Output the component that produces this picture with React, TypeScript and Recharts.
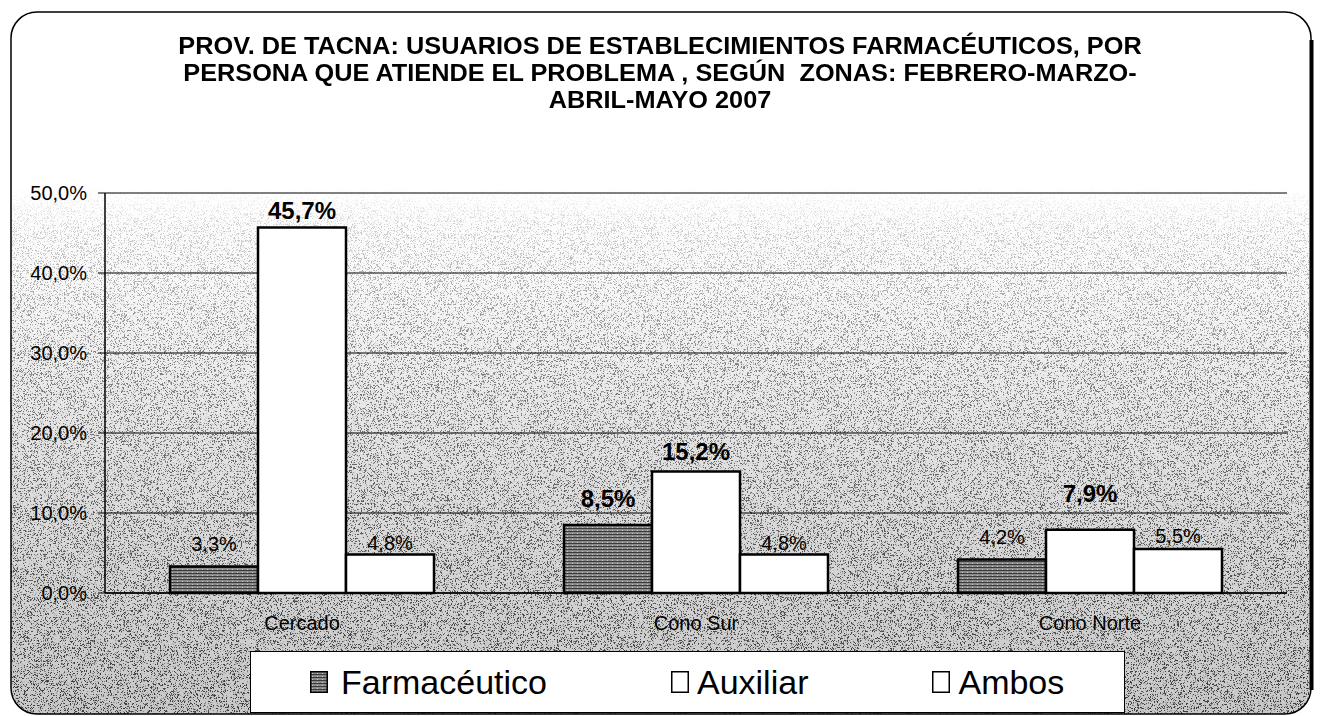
import React from 'react';
import { BarChart, Bar, XAxis, YAxis, CartesianGrid, Legend, LabelList } from 'recharts';

const categories = ['Cercado', 'Cono Sur', 'Cono Norte'];
const farmaceutico = [3.3, 8.5, 4.2];
const auxiliar = [45.7, 15.2, 7.9];
const ambos = [4.8, 4.8, 5.5];
const yTicks = [0, 10, 20, 30, 40, 50];
const seriesNames = ['Farmacéutico', 'Auxiliar', 'Ambos'];
const titleLines = [
  'PROV. DE TACNA: USUARIOS DE ESTABLECIMIENTOS FARMACÉUTICOS, POR',
  'PERSONA QUE ATIENDE EL PROBLEMA , SEGÚN  ZONAS: FEBRERO-MARZO-',
  'ABRIL-MAYO 2007',
];

// label styling (not data)
const labelBold = {
  farm: [false, true, false],
  aux: [true, true, true],
  ambos: [false, false, false],
};
const labelGap = {
  farm: [16, 18, 15],
  aux: [8, 11, 28],
  ambos: [5, 5, 6],
};

const data = categories.map((name, i) => ({
  name,
  farm: farmaceutico[i],
  aux: auxiliar[i],
  ambos: ambos[i],
}));

const FONT = '"Liberation Sans", Arial, sans-serif';
const fmt = (v: number) => v.toFixed(1).replace('.', ',') + '%';

const makeLabel = (key: 'farm' | 'aux' | 'ambos') => (props: any) => {
  const { x, y, width, value, index } = props;
  const bold = labelBold[key][index];
  return (
    <text
      x={x + width / 2}
      y={y - labelGap[key][index]}
      textAnchor="middle"
      fontFamily={FONT}
      fontSize={bold ? 24 : 20}
      fontWeight={bold ? 'bold' : 'normal'}
      fill="#000"
    >
      {fmt(value)}
    </text>
  );
};

const LegendBox = () => {
  const fills = ['url(#farmPat)', '#fff', '#fff'];
  return (
    <div
      style={{
        boxSizing: 'border-box',
        width: 875,
        height: 62,
        border: '1.5px solid #000',
        background: '#fff',
        display: 'flex',
        alignItems: 'center',
        paddingLeft: 59,
        gap: 124,
        fontFamily: FONT,
        fontSize: 34,
        color: '#000',
      }}
    >
      {seriesNames.map((n, i) => (
        <div key={n} style={{ display: 'flex', alignItems: 'center' }}>
          <svg width={18} height={22} style={{ marginRight: i === 0 ? 13 : 8 }}>
            <rect x={0.75} y={0.75} width={16.5} height={20.5} fill={fills[i]} stroke="#000" strokeWidth={1.5} />
          </svg>
          <span style={{ lineHeight: '34px' }}>{n}</span>
        </div>
      ))}
    </div>
  );
};

export default function App() {
  return (
    <div style={{ position: 'fixed', left: 0, top: 0, width: 1320, height: 716, background: '#fff', overflow: 'hidden' }}>
      <svg width={1320} height={716} style={{ position: 'absolute', left: 0, top: 0 }}>
        <defs>
          <linearGradient id="bgGrad" x1="0" y1="0" x2="0" y2="716" gradientUnits="userSpaceOnUse">
            <stop offset="0" stopColor="#ffffff" />
            <stop offset="0.27" stopColor="#ffffff" />
            <stop offset="0.4" stopColor="#f7f7f7" />
            <stop offset="0.6" stopColor="#e4e4e4" />
            <stop offset="0.8" stopColor="#d4d4d4" />
            <stop offset="1" stopColor="#c8c8c8" />
          </linearGradient>
          <linearGradient id="maskGrad" x1="0" y1="0" x2="0" y2="716" gradientUnits="userSpaceOnUse">
            <stop offset="0" stopColor="#000" />
            <stop offset="0.26" stopColor="#000" />
            <stop offset="0.32" stopColor="#3a3a3a" />
            <stop offset="0.5" stopColor="#909090" />
            <stop offset="0.8" stopColor="#c8c8c8" />
            <stop offset="1" stopColor="#e0e0e0" />
          </linearGradient>
          <mask id="noiseMask" maskUnits="userSpaceOnUse" x="0" y="0" width="1320" height="716">
            <rect x={0} y={0} width={1320} height={716} fill="url(#maskGrad)" />
          </mask>
          <filter id="speck" x="0" y="0" width="1320" height="716" filterUnits="userSpaceOnUse">
            <feTurbulence type="fractalNoise" baseFrequency="1.7" numOctaves="1" seed="5" />
            <feColorMatrix type="matrix" values="0 0 0 0 0  0 0 0 0 0  0 0 0 0 0  -12 0 0 0 5.4" />
          </filter>
          <clipPath id="frameClip">
            <rect x={11} y={12} width={1300} height={702} rx={26} ry={26} />
          </clipPath>
          <pattern id="farmPat" width={5} height={3} patternUnits="userSpaceOnUse">
            <rect width={5} height={3} fill="#8a8a8a" />
            <rect y={0} width={5} height={1} fill="#3a3a3a" />
            <rect x={2} y={2} width={1} height={1} fill="#c8c8c8" />
          </pattern>
        </defs>
        <g clipPath="url(#frameClip)">
          <rect x={0} y={0} width={1320} height={716} fill="url(#bgGrad)" />
          <rect x={0} y={0} width={1320} height={716} filter="url(#speck)" mask="url(#noiseMask)" opacity={0.8} />
        </g>
      </svg>

      <div
        style={{
          position: 'absolute',
          left: 0,
          top: 33,
          width: 1320,
          textAlign: 'center',
          fontFamily: FONT,
          fontWeight: 'bold',
          fontSize: 23,
          lineHeight: '27px',
          whiteSpace: 'pre',
          color: '#000',
          transform: 'scaleX(1.1)',
          transformOrigin: '660px 0',
        }}
      >
        {titleLines.map((l) => (
          <div key={l}>{l}</div>
        ))}
      </div>

      <div style={{ position: 'absolute', left: 0, top: 0 }}>
        <BarChart
          width={1320}
          height={716}
          data={data}
          margin={{ top: 193, right: 33, bottom: 83, left: 10 }}
          barCategoryGap={65}
          barGap={0}
        >
          <CartesianGrid vertical={false} stroke="#000" strokeWidth={1} />
          <XAxis
            dataKey="name"
            height={40}
            axisLine={{ stroke: '#000', strokeWidth: 1.5 }}
            tickLine={false}
            tickSize={0}
            tickMargin={23}
            tick={{ fontFamily: FONT, fontSize: 20, fill: '#000' }}
          />
          <YAxis
            width={95}
            domain={[0, 50]}
            ticks={yTicks}
            interval={0}
            tickFormatter={fmt}
            axisLine={{ stroke: '#000', strokeWidth: 1.5 }}
            tickLine={{ stroke: '#000' }}
            tickSize={7}
            tickMargin={11}
            tick={{ fontFamily: FONT, fontSize: 20, fill: '#000' }}
          />
          <Legend
            layout="horizontal"
            verticalAlign="middle"
            align="center"
            wrapperStyle={{ position: 'absolute', left: 250, top: 651, width: 875, height: 62 }}
            content={() => <LegendBox />}
          />
          <Bar dataKey="farm" name={seriesNames[0]} fill="url(#farmPat)" stroke="#000" strokeWidth={2.5} isAnimationActive={false}>
            <LabelList dataKey="farm" content={makeLabel('farm')} />
          </Bar>
          <Bar dataKey="aux" name={seriesNames[1]} fill="#fff" stroke="#000" strokeWidth={2.5} isAnimationActive={false}>
            <LabelList dataKey="aux" content={makeLabel('aux')} />
          </Bar>
          <Bar dataKey="ambos" name={seriesNames[2]} fill="#fff" stroke="#000" strokeWidth={2.5} isAnimationActive={false}>
            <LabelList dataKey="ambos" content={makeLabel('ambos')} />
          </Bar>
        </BarChart>
      </div>

      <svg width={1320} height={716} style={{ position: 'absolute', left: 0, top: 0, pointerEvents: 'none' }}>
        <rect x={11} y={12} width={1300} height={702} rx={26} ry={26} fill="none" stroke="#000" strokeWidth={1.5} />
        <path d="M1311.5 40 L1311.5 690" stroke="#000" strokeWidth={4} fill="none" />
      </svg>
    </div>
  );
}
